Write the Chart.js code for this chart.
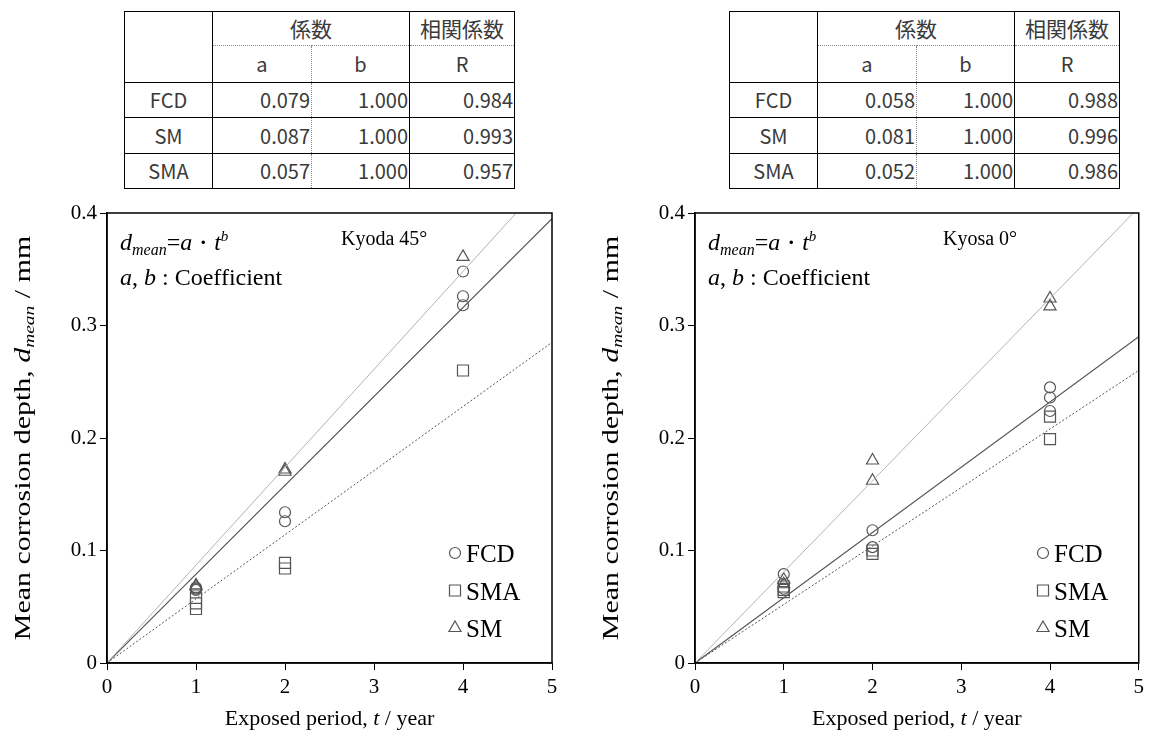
<!DOCTYPE html>
<html>
<head>
<meta charset="utf-8">
<script src="https://cdn.jsdelivr.net/npm/chart.js@4.4.1/dist/chart.umd.min.js"></script>
<style>
  html, body { margin: 0; padding: 0; background: #fff; width: 1149px; height: 744px; overflow: hidden; }
  canvas { position: absolute; }
  table.coef {
    position: absolute; top: 11px; border-collapse: collapse; table-layout: fixed;
    font-family: "Noto Sans CJK JP", "Noto Sans", sans-serif; font-size: 20px; color: #3a3a3a;
    border: 1.5px solid #000;
  }
  .coef td { border: 1px solid #000; padding: 0 1px 0 0; line-height: 1; box-sizing: border-box; }
  .coef td.c { text-align: center; padding: 0; }
  .coef td.h { font-size: 21px; }
  .coef td.n { text-align: right; }
  .coef td.dotB { border-bottom: 1px dotted #888; }
  .coef td.dotT { border-top: 1px dotted #888; }
  .coef td.dotR { border-right: 1px dotted #888; }
  .coef td.dotL { border-left: 1px dotted #888; }
</style>
</head>
<body>
<table class="coef" id="tblKyoda" style="left:124px"></table>
<table class="coef" id="tblKyosa" style="left:729px"></table>
<canvas id="chartKyoda" width="575" height="554" style="left:0;top:190px"></canvas>
<canvas id="chartKyosa" width="561" height="554" style="left:588px;top:190px"></canvas>
<script>
const serif = '"Liberation Serif", "Times New Roman", serif';
Chart.defaults.font.family = serif;

// regression coefficients (table values)
const materials = ['FCD', 'SM', 'SMA'];
const kyodaA = [0.079, 0.087, 0.057];
const kyodaB = [1.000, 1.000, 1.000];
const kyodaR = [0.984, 0.993, 0.957];
const kyosaA = [0.058, 0.081, 0.052];
const kyosaB = [1.000, 1.000, 1.000];
const kyosaR = [0.988, 0.996, 0.986];

const xTickLabels = ['0', '1', '2', '3', '4', '5'];
const yTickLabels = ['0', '0.1', '0.2', '0.3', '0.4'];
const fitT = [0, 5];

// Kyoda 45deg measurements
const kyodaFcdT = [1, 1, 1, 2, 2, 4, 4, 4];
const kyodaFcdD = [0.067, 0.066, 0.065, 0.134, 0.126, 0.348, 0.326, 0.318];
const kyodaSmaT = [1, 1, 1, 2, 2, 4];
const kyodaSmaD = [0.058, 0.053, 0.048, 0.089, 0.084, 0.260];
const kyodaSmT = [1, 1, 2, 2, 4];
const kyodaSmD = [0.069, 0.068, 0.172, 0.170, 0.361];

// Kyosa 0deg measurements
const kyosaFcdT = [1, 1, 2, 2, 4, 4, 4];
const kyosaFcdD = [0.079, 0.066, 0.118, 0.103, 0.245, 0.236, 0.224];
const kyosaSmaT = [1, 1, 1, 2, 2, 4, 4];
const kyosaSmaD = [0.068, 0.065, 0.063, 0.100, 0.097, 0.219, 0.199];
const kyosaSmT = [1, 1, 2, 2, 4, 4];
const kyosaSmD = [0.074, 0.070, 0.180, 0.162, 0.324, 0.317];

function pts(t, d) { return t.map((v, i) => ({ x: v, y: d[i] })); }
function fitLine(a, b) { return fitT.map(t => ({ x: t, y: a * Math.pow(t, b) })); }

function buildTable(id, a, b, r) {
  let html = '<colgroup><col style="width:88px"><col style="width:99px"><col style="width:98px"><col style="width:105px"></colgroup>';
  html += '<tr style="height:34px"><td rowspan="2"></td><td colspan="2" class="c h dotB">係数</td><td class="c h dotB">相関係数</td></tr>';
  html += '<tr style="height:37px"><td class="c dotT dotR">a</td><td class="c dotT dotL">b</td><td class="c dotT">R</td></tr>';
  const hs = [35, 36, 35];
  materials.forEach((m, i) => {
    html += `<tr style="height:${hs[i]}px"><td class="c">${m}</td><td class="n dotR">${a[i].toFixed(3)}</td>` +
            `<td class="n dotL">${b[i].toFixed(3)}</td><td class="n">${r[i].toFixed(3)}</td></tr>`;
  });
  document.getElementById(id).innerHTML = html;
}
buildTable('tblKyoda', kyodaA, kyodaB, kyodaR);
buildTable('tblKyosa', kyosaA, kyosaB, kyosaR);

// draw a sequence of text runs with different fonts
function drawRuns(ctx, runs, x, y, align) {
  let total = 0;
  runs.forEach(r => { ctx.font = r.f; total += ctx.measureText(r.t).width; });
  let cx = align === 'center' ? x - total / 2 : x;
  runs.forEach(r => {
    ctx.font = r.f;
    ctx.fillText(r.t, cx, y + (r.dy || 0));
    cx += ctx.measureText(r.t).width;
  });
}

const decorPlugin = {
  id: 'decor',
  afterDraw(chart, args, opts) {
    const { ctx, chartArea: ca } = chart;
    ctx.save();
    // frame
    ctx.strokeStyle = '#000';
    ctx.lineWidth = 1.5;
    ctx.strokeRect(ca.left, ca.top, ca.right - ca.left, ca.bottom - ca.top);

    ctx.fillStyle = '#000';
    ctx.textBaseline = 'alphabetic';
    ctx.textAlign = 'left';
    // formula
    drawRuns(ctx, [
      { t: 'd', f: `italic 24px ${serif}` },
      { t: 'mean', f: `italic 16px ${serif}`, dy: 5 },
      { t: '=', f: `24px ${serif}` },
      { t: 'a', f: `italic 24px ${serif}` },
      { t: '・', f: `22px ${serif}` },
      { t: 't', f: `italic 24px ${serif}` },
      { t: 'b', f: `italic 15px ${serif}`, dy: -9 }
    ], ca.left + 13, ca.top + 37);
    drawRuns(ctx, [
      { t: 'a', f: `italic 24px ${serif}` },
      { t: ', ', f: `24px ${serif}` },
      { t: 'b', f: `italic 24px ${serif}` },
      { t: ' : Coefficient', f: `24px ${serif}` }
    ], ca.left + 13, ca.top + 72);
    // site label
    ctx.font = `20px ${serif}`;
    ctx.fillText(opts.site, ca.left + opts.siteX, ca.top + 32);

    // legend
    const leg = [
      { name: 'FCD', style: 'circle', r: 5.5 },
      { name: 'SMA', style: 'rect', r: 7.8 },
      { name: 'SM', style: 'triangle', r: 7 }
    ];
    leg.forEach((l, i) => {
      const px = ca.left + 348, py = ca.top + 340 + i * 37.5;
      ctx.strokeStyle = '#555';
      ctx.lineWidth = 1.2;
      ctx.fillStyle = 'rgba(0,0,0,0)';
      Chart.helpers.drawPoint(ctx, { pointStyle: l.style, radius: l.r, rotation: 0, borderWidth: 1.2 }, px, py);
      ctx.fillStyle = '#000';
      ctx.font = `25px ${serif}`;
      ctx.fillText(l.name, px + 11, py + 9);
    });

    // axis titles (y title is stretched along its length, as in the original)
    ctx.save();
    ctx.translate(30, (ca.top + ca.bottom) / 2);
    ctx.rotate(-Math.PI / 2);
    ctx.scale(1.3, 1);
    drawRuns(ctx, [
      { t: 'Mean corrosion depth, ', f: `23px ${serif}` },
      { t: 'd', f: `italic 23px ${serif}` },
      { t: 'mean', f: `italic 15px ${serif}`, dy: 4 },
      { t: ' / mm', f: `23px ${serif}` }
    ], 0, 0, 'center');
    ctx.restore();
    drawRuns(ctx, [
      { t: 'Exposed period, ', f: `22px ${serif}` },
      { t: 't', f: `italic 22px ${serif}` },
      { t: ' / year', f: `22px ${serif}` }
    ], (ca.left + ca.right) / 2, ca.bottom + 62, 'center');
    ctx.restore();
  }
};

function makeChart(id, site, siteX, a, b, fcd, sma, sm) {
  const markerBase = { showLine: false, borderColor: '#555', backgroundColor: 'rgba(0,0,0,0)', borderWidth: 1.2 };
  return new Chart(document.getElementById(id), {
    type: 'scatter',
    data: {
      datasets: [
        { label: 'SM fit', data: fitLine(a[1], b[1]), showLine: true, pointRadius: 0, borderColor: '#b4b4b4', borderWidth: 1 },
        { label: 'FCD fit', data: fitLine(a[0], b[0]), showLine: true, pointRadius: 0, borderColor: '#555', borderWidth: 1.2 },
        { label: 'SMA fit', data: fitLine(a[2], b[2]), showLine: true, pointRadius: 0, borderColor: '#555', borderWidth: 1, borderDash: [2, 2] },
        Object.assign({ label: 'FCD', data: fcd, pointStyle: 'circle', pointRadius: 5.5 }, markerBase),
        Object.assign({ label: 'SMA', data: sma, pointStyle: 'rect', pointRadius: 7.8 }, markerBase),
        Object.assign({ label: 'SM', data: sm, pointStyle: 'triangle', pointRadius: 7 }, markerBase)
      ]
    },
    options: {
      responsive: false,
      animation: false,
      layout: { padding: { top: 23, right: id === 'chartKyoda' ? 23 : 10, left: 0, bottom: 0 } },
      plugins: { legend: { display: false }, tooltip: { enabled: false }, decor: { site: site, siteX: siteX } },
      scales: {
        x: {
          type: 'linear', min: 0, max: 5,
          afterFit: s => { s.height = 81; },
          ticks: { stepSize: 1, color: '#000', padding: 5, font: { family: serif, size: 21 },
                   callback: (v, i) => xTickLabels[i] },
          grid: { drawOnChartArea: false, drawTicks: true, tickLength: 7, color: '#000' },
          border: { color: '#000', width: 1.5 }
        },
        y: {
          type: 'linear', min: 0, max: 0.4,
          afterFit: s => { s.width = 107; },
          ticks: { stepSize: 0.1, color: '#000', padding: 3, font: { family: serif, size: 21 },
                   callback: (v, i) => yTickLabels[i] },
          grid: { drawOnChartArea: false, drawTicks: true, tickLength: 7, color: '#000' },
          border: { color: '#000', width: 1.5 }
        }
      }
    },
    plugins: [decorPlugin]
  });
}

makeChart('chartKyoda', 'Kyoda 45°', 234, kyodaA, kyodaB,
  pts(kyodaFcdT, kyodaFcdD), pts(kyodaSmaT, kyodaSmaD), pts(kyodaSmT, kyodaSmD));
makeChart('chartKyosa', 'Kyosa 0°', 248, kyosaA, kyosaB,
  pts(kyosaFcdT, kyosaFcdD), pts(kyosaSmaT, kyosaSmaD), pts(kyosaSmT, kyosaSmD));
</script>
</body>
</html>
